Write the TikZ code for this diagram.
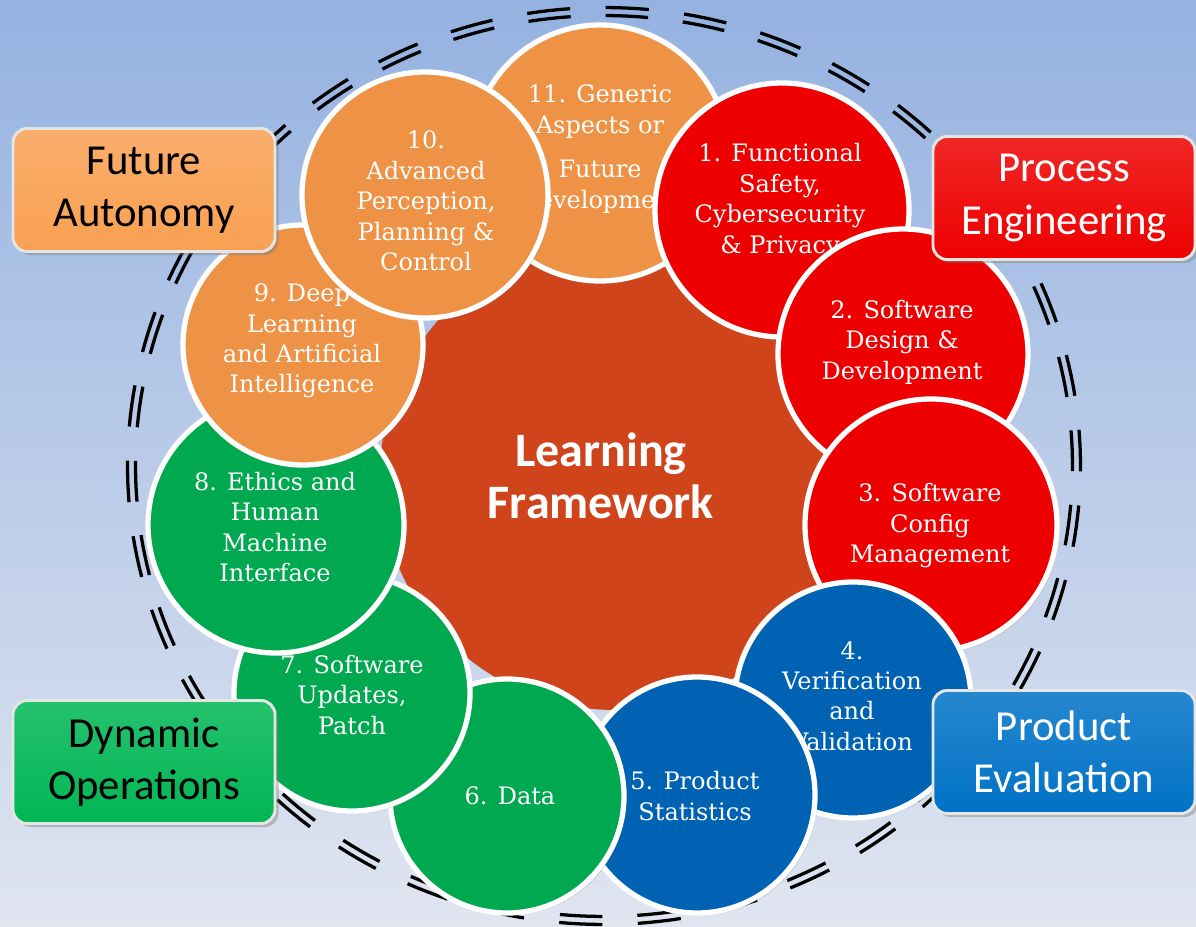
\documentclass[tikz,border=0pt]{standalone}
\usepackage{fontspec}
\setmainfont{Carlito}
\newfontfamily\bubfont{DejaVu Serif}
\newfontfamily\lblfont{Carlito}
\usetikzlibrary{shadows}
\def\pu{0.03cm}

% palette
\definecolor{bgtop}{RGB}{148,178,225}
\definecolor{bgbot}{RGB}{224,229,240}
\definecolor{corange}{RGB}{238,146,70}
\definecolor{cred}{RGB}{238,0,0}
\definecolor{cblue}{RGB}{0,98,178}
\definecolor{cgreen}{RGB}{0,168,80}
\definecolor{ccore}{RGB}{208,68,28}
\definecolor{borange}{RGB}{249,160,82}
\definecolor{bred}{RGB}{238,0,0}
\definecolor{bblue}{RGB}{0,114,198}
\definecolor{bgreen}{RGB}{0,182,84}

\begin{document}
\begin{tikzpicture}[x=0.03cm,y=-0.03cm,
  bub/.style={circle, draw=white, line width=4.5pt, inner sep=0pt,
    drop shadow={opacity=0.35, shadow xshift=2pt, shadow yshift=-2pt}},
  btxt/.style={text=white, align=center, inner sep=0pt,
    font=\bubfont\fontsize{20.5}{26}\selectfont},
  lbl/.style={rounded corners=12pt, draw=gray!20, line width=2.5pt,
    minimum width=262*\pu, minimum height=123*\pu, align=center, inner sep=0pt,
    font=\lblfont\fontsize{36.5}{44.5}\selectfont,
    drop shadow={opacity=0.45, shadow xshift=3pt, shadow yshift=-3pt}},
  dashstroke/.style={line width=2.8pt, black}
]
\useasboundingbox (0,0) rectangle (1196,927);

% backdrop
\shade[top color=bgtop, bottom color=bgbot] (0,0) rectangle (1196,927);

% double dashed ring
\foreach \k in {0,...,37}{
  \pgfmathsetmacro\ta{-89.8+360/38*\k}
  \pgfmathsetmacro\tb{\ta+5.2}
  \draw[dashstroke] plot[domain=\ta:\tb, samples=5] ({604+476.5*cos(\x)},{466+458.5*sin(\x)});
  \draw[dashstroke] plot[domain=\ta:\tb, samples=5] ({604+468.5*cos(\x)},{466+450.5*sin(\x)});
}

% core
\node[circle, fill=ccore, minimum size=470*\pu, inner sep=0pt] (core) at (615,475) {};
\node[text=white, align=center, inner sep=0pt,
  font=\lblfont\bfseries\fontsize{41}{44.5}\selectfont] (coret) at (601,476) {Learning\\Framework};

% ring of topics (drawn in stacking order)
\node[bub, fill=corange, minimum size=256*\pu] (c11) at (600,153) {};
\node[btxt] (t11) at (600,149) {11. Generic\\Aspects or\\[12pt] Future\\Development};

\node[bub, fill=cred, minimum size=254*\pu] (c1) at (782,210) {};
\node[btxt] (t1) at (780,201) {1. Functional\\Safety,\\Cybersecurity\\\& Privacy};

\node[bub, fill=cred, minimum size=250*\pu] (c2) at (903,354) {};
\node[btxt] (t2) at (902,342) {2. Software\\Design \&\\Development};

\node[bub, fill=cred, minimum size=252*\pu] (c3) at (931,525) {};
\node[btxt] (t3) at (930,526) {3. Software\\Config\\Management};

\node[bub, fill=cblue, minimum size=236*\pu] (c4) at (853,700) {};
\node[btxt] (t4) at (852,696) {4.\\Verification\\and\\Validation};

\node[bub, fill=cblue, minimum size=236*\pu] (c5) at (697,795) {};
\node[btxt] (t5) at (695,796) {5. Product\\Statistics};

\node[bub, fill=cgreen, minimum size=234*\pu] (c6) at (507,796) {};
\node[btxt] (t6) at (510,796) {6. Data};

\node[bub, fill=cgreen, minimum size=236*\pu] (c7) at (352,693) {};
\node[btxt] (t7) at (352,695) {7. Software\\Updates,\\Patch};

\node[bub, fill=cgreen, minimum size=256*\pu] (c8) at (276,525) {};
\node[btxt] (t8) at (275,527) {8. Ethics and\\Human\\Machine\\Interface};

\node[bub, fill=corange, minimum size=240*\pu] (c9) at (303,345) {};
\node[btxt] (t9) at (302,341) {9. Deep\\Learning\\and Artificial\\Intelligence};

\node[bub, fill=corange, minimum size=246*\pu] (c10) at (425,195) {};
\node[btxt] (t10) at (426,201) {10.\\Advanced\\Perception,\\Planning \&\\Control};

% group labels
\node[lbl, top color=borange!85!white, bottom color=borange, text=black] (fa) at (144,190) {Future\\Autonomy};
\node[lbl, top color=bred!85!white, bottom color=bred, text=white] (pe) at (1064,198) {Process\\Engineering};
\node[lbl, top color=bgreen!85!white, bottom color=bgreen, text=black] (dop) at (144,762) {Dynamic\\Operations};
\node[lbl, top color=bblue!85!white, bottom color=bblue, text=white] (pev) at (1064,752) {Product\\Evaluation};
\end{tikzpicture}
\end{document}
